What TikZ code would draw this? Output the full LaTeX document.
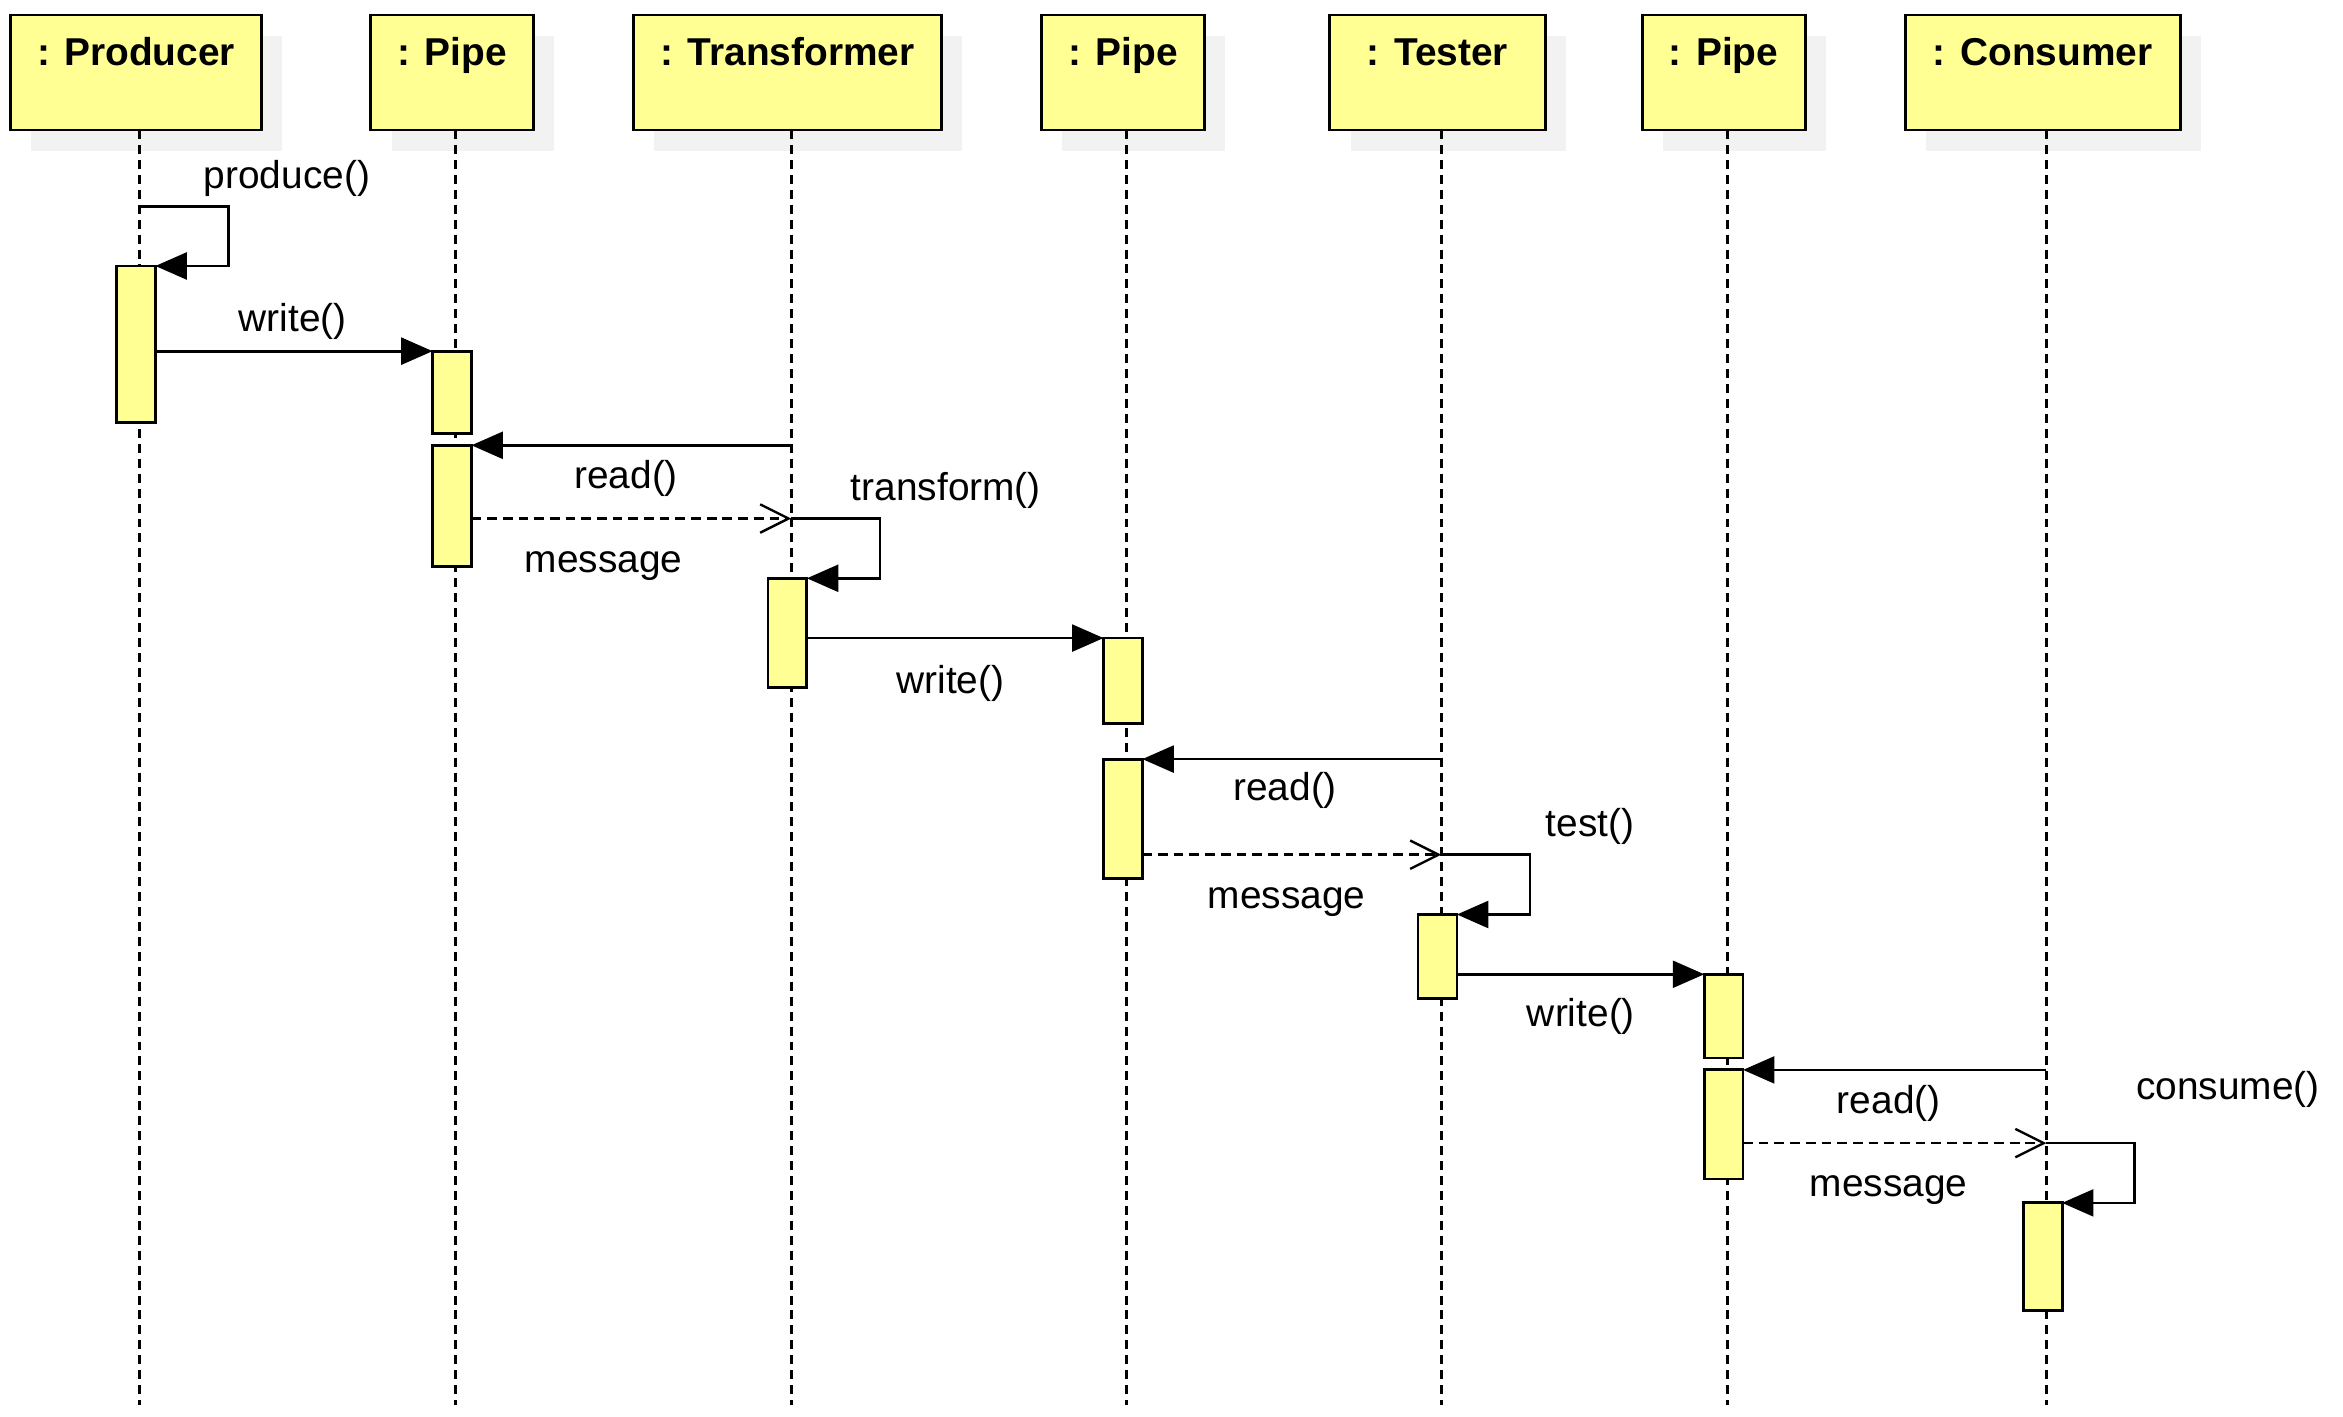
\documentclass[tikz,border=0pt]{standalone}
\usepackage{fontspec}
\setmainfont{Liberation Sans}
\usetikzlibrary{arrows.meta,shadows}
\definecolor{boxyellow}{HTML}{FFFF94}
\definecolor{shadowgray}{HTML}{F2F2F2}
\begin{document}
\begin{tikzpicture}[x=1pt,y=-1pt,
  hdr/.style={draw, line width=1.9pt, fill=boxyellow, minimum height=77pt, inner sep=0pt, outer sep=0pt,
    drop shadow={shadow xshift=14pt, shadow yshift=-14pt, fill=shadowgray, opacity=1}},
  hdrtext/.style={font=\fontsize{26}{30}\selectfont\bfseries, anchor=base, inner sep=0pt},
  lbl/.style={font=\fontsize{26}{30}\selectfont, anchor=base, inner sep=0pt},
  act/.style={draw, line width=1.9pt, fill=boxyellow, minimum width=26pt, inner sep=0pt, outer sep=0pt},
  life/.style={dash pattern=on 6pt off 4pt, line width=1.8pt},
  call/.style={line width=1.8pt, -{Triangle[length=21pt,width=18pt]}},
  reply/.style={line width=1.8pt, dash pattern=on 6.5pt off 4pt,
    -{Straight Barb[length=19pt,width=19pt,line width=1.6pt]}},
]
\useasboundingbox (0,0) rectangle (1568,948);

% headers
\node[hdr, minimum width=168pt] (hProd) at (91,48.5) {};
\node[hdr, minimum width=109pt] (hPipeA) at (302.5,48.5) {};
\node[hdr, minimum width=206pt] (hTrans) at (527,48.5) {};
\node[hdr, minimum width=109pt] (hPipeB) at (751.5,48.5) {};
\node[hdr, minimum width=144pt] (hTest) at (962,48.5) {};
\node[hdr, minimum width=109pt] (hPipeC) at (1153.5,48.5) {};
\node[hdr, minimum width=184pt] (hCons) at (1367,48.5) {};

\node[hdrtext] (tProd) at (91,44) {: Producer};
\node[hdrtext] (tPipeA) at (302.5,44) {: Pipe};
\node[hdrtext] (tTrans) at (527,44) {: Transformer};
\node[hdrtext] (tPipeB) at (751.5,44) {: Pipe};
\node[hdrtext] (tTest) at (962,44) {: Tester};
\node[hdrtext] (tPipeC) at (1153.5,44) {: Pipe};
\node[hdrtext] (tCons) at (1367,44) {: Consumer};

% lifeline ends
\coordinate (eProd) at (93.5,940);
\coordinate (ePipeA) at (305,940);
\coordinate (eTrans) at (529.5,940);
\coordinate (ePipeB) at (754,940);
\coordinate (eTest) at (964.5,940);
\coordinate (ePipeC) at (1156,940);
\coordinate (eCons) at (1369.5,940);

\draw[life] (hProd.south -| eProd) -- (eProd);
\draw[life] (hPipeA.south -| ePipeA) -- (ePipeA);
\draw[life] (hTrans.south -| eTrans) -- (eTrans);
\draw[life] (hPipeB.south -| ePipeB) -- (ePipeB);
\draw[life] (hTest.south -| eTest) -- (eTest);
\draw[life] (hPipeC.south -| ePipeC) -- (ePipeC);
\draw[life] (hCons.south -| eCons) -- (eCons);

% activations
\node[act, minimum height=105pt] (aP) at (91,230.5) {};
\node[act, minimum height=55pt] (aPa) at (302.5,262.5) {};
\node[act, minimum height=81pt] (aPb) at (302.5,338.5) {};
\node[act, minimum height=73pt] (aT) at (527,423.5) {};
\node[act, minimum height=57pt] (aP2a) at (751.5,455.5) {};
\node[act, minimum height=80pt] (aP2b) at (751.5,548) {};
\node[act, minimum height=56pt] (aTe) at (962,640) {};
\node[act, minimum height=56pt] (aP3a) at (1153.5,680) {};
\node[act, minimum height=73pt] (aP3b) at (1153.5,752.5) {};
\node[act, minimum height=72pt] (aC) at (1367,841) {};

% message anchor points on lifelines
\coordinate (sProd) at (93.5,138);
\coordinate (rTrans) at (529.5,298);
\coordinate (mTrans) at (529.5,347);
\coordinate (rTest) at (964.5,508);
\coordinate (mTest) at (964.5,572);
\coordinate (rCons) at (1369.5,716);
\coordinate (mCons) at (1369.5,765);

% messages
\draw[call] (sProd) -- ++(59.5,0) |- (aP.north east);
\draw[call] (aP.east |- aPa.north) -- (aPa.north west);
\draw[call] (rTrans) -- (aPb.north east);
\draw[reply] (aPb.east |- mTrans) -- (mTrans);
\draw[call] (mTrans) -- ++(59.5,0) |- (aT.north east);
\draw[call] (aT.east |- aP2a.north) -- (aP2a.north west);
\draw[call] (rTest) -- (aP2b.north east);
\draw[reply] (aP2b.east |- mTest) -- (mTest);
\draw[call] (mTest) -- ++(59.5,0) |- (aTe.north east);
\draw[call] (aTe.east |- aP3a.north) -- (aP3a.north west);
\draw[call] (rCons) -- (aP3b.north east);
\draw[reply] (aP3b.east |- mCons) -- (mCons);
\draw[call] (mCons) -- ++(59,0) |- (aC.north east);

% labels
\node[lbl] (lProduce) at (192,126) {produce()};
\node[lbl] (lWrite1) at (196,222) {write()};
\node[lbl] (lRead1) at (419,327) {read()};
\node[lbl] (lMsg1) at (404,383) {message};
\node[lbl] (lTransform) at (633,335) {transform()};
\node[lbl] (lWrite2) at (636,464) {write()};
\node[lbl] (lRead2) at (860,536) {read()};
\node[lbl] (lMsg2) at (861,608) {message};
\node[lbl] (lTest) at (1064,560) {test()};
\node[lbl] (lWrite3) at (1058,687) {write()};
\node[lbl] (lRead3) at (1264,745) {read()};
\node[lbl] (lMsg3) at (1264,801) {message};
\node[lbl] (lConsume) at (1491,736) {consume()};
\end{tikzpicture}
\end{document}
